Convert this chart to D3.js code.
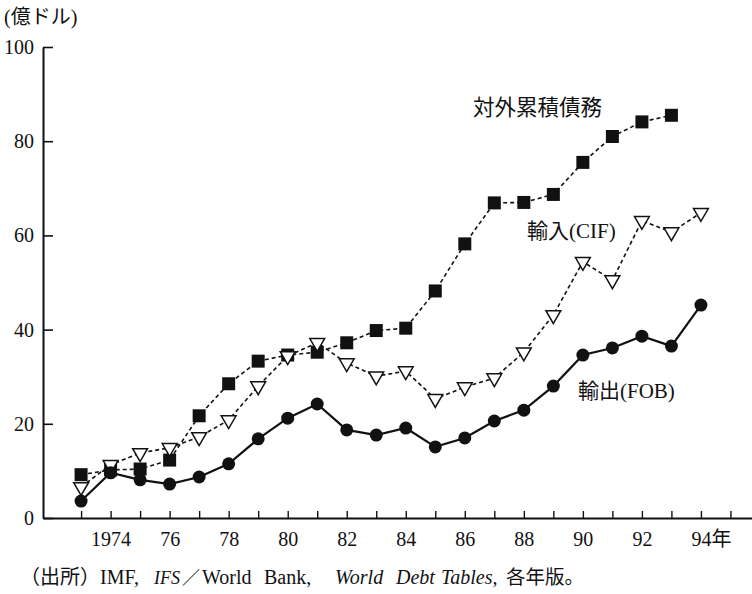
<!DOCTYPE html>
<html>
<head>
<meta charset="utf-8">
<script src="https://cdn.jsdelivr.net/npm/d3@7/dist/d3.min.js"></script>
<style>
  body { margin: 0; background: #fff; }
  svg { display: block; }
  text { font-family: "Liberation Serif", "Noto Sans CJK JP", serif; fill: #111; }
</style>
</head>
<body>
<svg id="chart" width="752" height="594"></svg>
<script>
const years = d3.range(1973, 1995);
const debt    = [9.2, 10.2, 10.4, 12.3, 21.7, 28.5, 33.3, 34.6, 35.2, 37.2, 39.8, 40.3, 48.2, 58.2, 66.9, 67.0, 68.7, 75.5, 81.0, 84.1, 85.5];
const imports = [6.6, 11.3, 13.8, 14.9, 17.2, 20.8, 28.0, 34.4, 37.2, 32.9, 30.1, 31.2, 25.3, 27.8, 29.7, 35.2, 43.1, 54.4, 50.5, 63.1, 60.7, 64.8];
const exports = [3.6, 9.6, 8.1, 7.2, 8.7, 11.5, 16.8, 21.2, 24.2, 18.7, 17.6, 19.1, 15.1, 17.0, 20.6, 22.9, 28.0, 34.6, 36.1, 38.6, 36.5, 45.2];
const yTicks = [0, 20, 40, 60, 80, 100];
const xLabelYears = [1974, 1976, 1978, 1980, 1982, 1984, 1986, 1988, 1990, 1992, 1994];
const labels = { debt: "対外累積債務", imports: "輸入(CIF)", exports: "輸出(FOB)" };
const unitLabel = "(億ドル)";
const sourceParts = [
  { t: "（出所）", x: 20, italic: false, size: 20 },
  { t: "IMF,", x: 100, italic: false, size: 20 },
  { t: "IFS", x: 154, italic: true, size: 18 },
  { t: "／", x: 182, italic: false, size: 18 },
  { t: "World", x: 202, italic: false, size: 20 },
  { t: "Bank,", x: 264, italic: false, size: 20 },
  { t: "World", x: 335, italic: true, size: 20 },
  { t: "Debt", x: 396, italic: true, size: 20 },
  { t: "Tables,", x: 441, italic: true, size: 20 },
  { t: "各年版。", x: 506, italic: false, size: 19.5 }
];

const svg = d3.select("#chart");
const x = d3.scaleLinear().domain([1971.71, 1995.73]).range([43, 752]);
const y = d3.scaleLinear().domain([0, 100]).range([518, 47]);

// Y axis
const yAxis = d3.axisLeft(y).tickValues(yTicks).tickSizeInner(-10).tickSizeOuter(0).tickPadding(9);
const gy = svg.append("g").attr("transform", `translate(${x.range()[0]},0)`).call(yAxis);
gy.select(".domain").attr("stroke", "#111").attr("stroke-width", 2);
gy.selectAll(".tick line").attr("stroke", "#111").attr("stroke-width", 1.6);
gy.selectAll(".tick text").style("font-size", "20px").attr("fill", "#111");

// X axis
const xAxis = d3.axisBottom(x).tickValues(d3.range(1973, 1996)).tickSizeInner(-7).tickSizeOuter(0).tickPadding(14)
  .tickFormat(d => xLabelYears.includes(d) ? (d === 1974 ? "1974" : String(d % 100)) : "");
const gx = svg.append("g").attr("transform", `translate(0,${y(0)})`).call(xAxis);
gx.select(".domain").attr("stroke", "#111").attr("stroke-width", 2);
gx.selectAll(".tick line").attr("stroke", "#111").attr("stroke-width", 1.4);
gx.selectAll(".tick text").style("font-size", "20px").attr("fill", "#111");
gx.selectAll(".tick").filter(d => d === 1994).select("text")
  .attr("text-anchor", "start").attr("dx", "-10").text("94").append("tspan").text("年");

// Lines
const line = d3.line().x((d, i) => x(years[i])).y(d => y(d));
svg.append("path").datum(debt).attr("d", line).attr("fill", "none")
  .attr("stroke", "#111").attr("stroke-width", 1.6).attr("stroke-dasharray", "4,3");
svg.append("path").datum(imports).attr("d", line).attr("fill", "none")
  .attr("stroke", "#111").attr("stroke-width", 1.6).attr("stroke-dasharray", "4,3");
svg.append("path").datum(exports).attr("d", line).attr("fill", "none")
  .attr("stroke", "#111").attr("stroke-width", 2.2);

// Markers
const sq = 13;
svg.append("g").selectAll("rect").data(debt).join("rect")
  .attr("x", (d, i) => x(years[i]) - sq / 2).attr("y", d => y(d) - sq / 2)
  .attr("width", sq).attr("height", sq).attr("fill", "#111");

const tri = d3.symbol().type(d3.symbolTriangle).size(95);
svg.append("g").selectAll("path").data(imports).join("path")
  .attr("d", tri)
  .attr("transform", (d, i) => `translate(${x(years[i])},${y(d)}) rotate(180)`)
  .attr("fill", "#fff").attr("stroke", "#111").attr("stroke-width", 1.5);

svg.append("g").selectAll("circle").data(exports).join("circle")
  .attr("cx", (d, i) => x(years[i])).attr("cy", d => y(d)).attr("r", 6.5).attr("fill", "#111");

// Series labels
svg.append("text").attr("x", 473).attr("y", 115).style("font-size", "21.5px").text(labels.debt);
svg.append("text").attr("x", 527).attr("y", 238).style("font-size", "21px").text(labels.imports);
svg.append("text").attr("x", 578).attr("y", 398).style("font-size", "21px").text(labels.exports);

// Unit label
svg.append("text").attr("x", 4).attr("y", 24).style("font-size", "20px").text(unitLabel);

// Source
svg.append("g").selectAll("text").data(sourceParts).join("text")
  .attr("x", d => d.x).attr("y", 584)
  .style("font-size", d => d.size + "px")
  .style("font-style", d => d.italic ? "italic" : "normal")
  .text(d => d.t);
</script>
</body>
</html>
